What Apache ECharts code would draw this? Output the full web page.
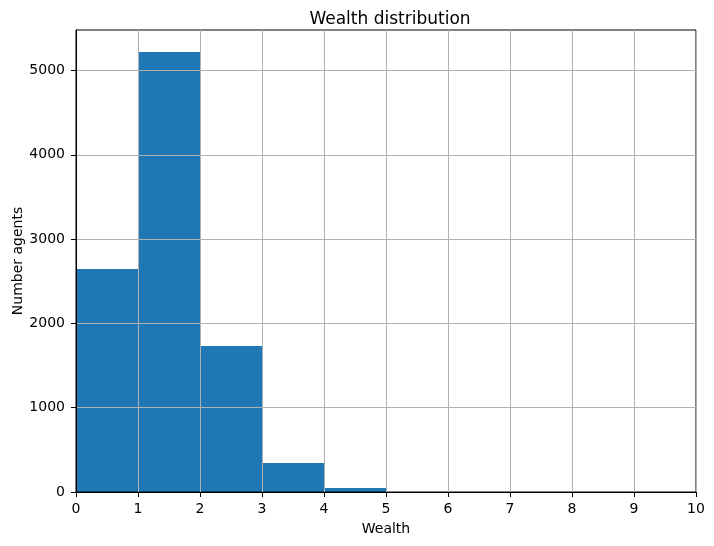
<!DOCTYPE html>
<html>
<head>
<meta charset="utf-8">
<title>Wealth distribution</title>
<script src="https://cdn.jsdelivr.net/npm/echarts@6/dist/echarts.min.js"></script>
<style>
  html, body { margin: 0; padding: 0; background: #fff; }
  #main { width: 714px; height: 546px; }
</style>
</head>
<body>
<div id="main"></div>
<script>
// histogram bins (left edge, right edge) and counts
var binStart = [0, 1, 2, 3, 4, 5, 6, 7, 8, 9];
var binEnd   = [1, 2, 3, 4, 5, 6, 7, 8, 9, 10];
var counts   = [2645, 5219, 1732, 344, 47, 0, 0, 0, 0, 0];
var xTicks = [0, 1, 2, 3, 4, 5, 6, 7, 8, 9, 10];
var yTicks = [0, 1000, 2000, 3000, 4000, 5000];

var data = [];
for (var i = 0; i < counts.length; i++) {
    data.push([binStart[i], binEnd[i], counts[i]]);
}

var font = 'DejaVu Sans';
var myChart = echarts.init(document.getElementById('main'));
var option = {
    animation: false,
    textStyle: { fontFamily: font },
    title: {
        text: 'Wealth distribution',
        left: 385, top: 6, textAlign: 'center',
        textStyle: { fontFamily: font, fontSize: 17, fontWeight: 'normal', color: '#000' }
    },
    grid: {
        left: 76, right: 18, top: 30, bottom: 54,
        outerBoundsMode: 'none', containLabel: false,
        show: true, borderColor: '#000', borderWidth: 1, z: 3
    },
    xAxis: {
        type: 'value', min: 0, max: 10, interval: 1, z: 3,
        name: 'Wealth', nameLocation: 'middle', nameGap: 30, nameMoveOverlap: false,
        nameTextStyle: { fontFamily: font, fontSize: 14, color: '#000' },
        axisLine: { show: true, lineStyle: { color: '#000', width: 1 } },
        axisTick: { show: true, length: 5, customValues: xTicks, lineStyle: { color: '#000' } },
        axisLabel: {
            fontFamily: font, fontSize: 14, color: '#000', margin: 10, customValues: xTicks,
            formatter: function (v) { return String(v); }
        },
        splitLine: { show: true, lineStyle: { color: '#b0b0b0', width: 1 } }
    },
    yAxis: {
        type: 'value', min: 0, max: 5480, interval: 1000, z: 3,
        name: 'Number agents', nameLocation: 'middle', nameGap: 51, nameMoveOverlap: false,
        nameTextStyle: { fontFamily: font, fontSize: 14, color: '#000' },
        axisLine: { show: true, lineStyle: { color: '#000', width: 1 } },
        axisTick: { show: true, length: 5, customValues: yTicks, lineStyle: { color: '#000' } },
        axisLabel: {
            fontFamily: font, fontSize: 14, color: '#000', margin: 11, customValues: yTicks,
            formatter: function (v) { return String(v); }
        },
        splitLine: { show: true, lineStyle: { color: '#b0b0b0', width: 1 } }
    },
    series: [{
        type: 'custom',
        z: 1,
        data: data,
        encode: { x: [0, 1], y: 2 },
        renderItem: function (params, api) {
            var p0 = api.coord([api.value(0), 0]);
            var p1 = api.coord([api.value(1), api.value(2)]);
            return {
                type: 'rect',
                shape: { x: p0[0], y: p1[1], width: p1[0] - p0[0], height: p0[1] - p1[1] },
                style: { fill: '#1f77b4' }
            };
        }
    }]
};
myChart.setOption(option);
</script>
</body>
</html>
